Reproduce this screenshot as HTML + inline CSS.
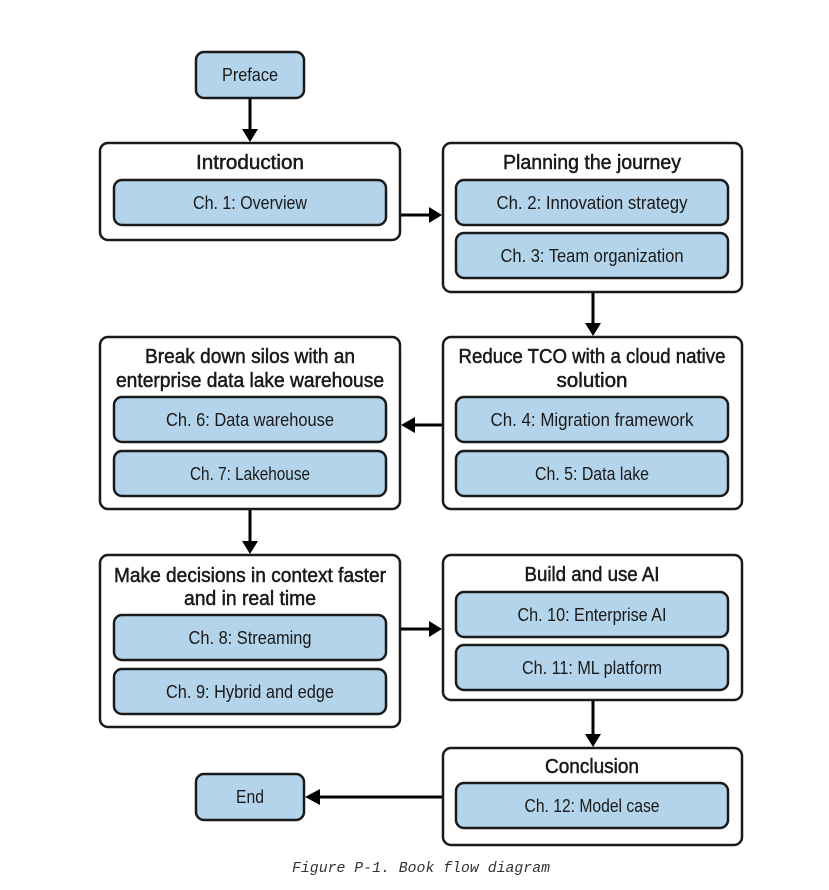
<!DOCTYPE html>
<html><head><meta charset="utf-8"><style>
html,body{margin:0;padding:0;background:#fff;}
svg{display:block;}
.o{fill:#fff;stroke:#1a1a1a;stroke-width:2.5;}
.i{fill:#b3d4ea;stroke:#1a1a1a;stroke-width:2.5;}
text{font-family:"Liberation Sans",sans-serif;fill:#1a1a1a;text-anchor:middle;}
.c{font-size:18px;}
.t{font-size:20px;stroke:#1a1a1a;stroke-width:0.5;}
.l{stroke:#000;stroke-width:3;fill:none;}
.cap{font-family:"Liberation Mono",monospace;font-style:italic;font-size:15px;fill:#333;}
</style></head><body>
<svg width="829" height="890" viewBox="0 0 829 890" xmlns="http://www.w3.org/2000/svg">
<defs><marker id="a" markerWidth="10" markerHeight="10" refX="9" refY="5" orient="auto" markerUnits="userSpaceOnUse"><path d="M0,0 L10,5 L0,10 Z" fill="#000" transform="scale(1)"/></marker></defs>
<g>
<path class="l" d="M250,99 V132"/><path d="M242,129 L250,142 L258,129Z"/>
<path class="l" d="M401,215 H432"/><path d="M429,207 L442,215 L429,223Z"/>
<path class="l" d="M593,293 V326"/><path d="M585,323 L593,336 L601,323Z"/>
<path class="l" d="M442,425 H412"/><path d="M415,417 L401,425 L415,433Z"/>
<path class="l" d="M250,510 V544"/><path d="M242,541 L250,554 L258,541Z"/>
<path class="l" d="M401,629 H432"/><path d="M429,621 L442,629 L429,637Z"/>
<path class="l" d="M593,701 V737"/><path d="M585,734 L593,747 L601,734Z"/>
<path class="l" d="M442,797 H317"/><path d="M320,789 L305,797 L320,805Z"/>
</g>
<rect class="i" x="196" y="52" width="108" height="46" rx="8"/>
<text class="c" x="250" y="81" textLength="56" lengthAdjust="spacingAndGlyphs">Preface</text>

<rect class="o" x="100" y="143" width="300" height="97" rx="8"/>
<text class="t" x="250" y="169" textLength="108" lengthAdjust="spacingAndGlyphs">Introduction</text>
<rect class="i" x="114" y="180" width="272" height="45" rx="8"/>
<text class="c" x="250" y="209" textLength="114" lengthAdjust="spacingAndGlyphs">Ch. 1: Overview</text>

<rect class="o" x="443" y="143" width="299" height="149" rx="8"/>
<text class="t" x="592" y="169" textLength="178" lengthAdjust="spacingAndGlyphs">Planning the journey</text>
<rect class="i" x="456" y="180" width="272" height="45" rx="8"/>
<text class="c" x="592" y="209" textLength="191" lengthAdjust="spacingAndGlyphs">Ch. 2: Innovation strategy</text>
<rect class="i" x="456" y="233" width="272" height="45" rx="8"/>
<text class="c" x="592" y="262" textLength="183" lengthAdjust="spacingAndGlyphs">Ch. 3: Team organization</text>

<rect class="o" x="443" y="337" width="299" height="172" rx="8"/>
<text class="t" x="592" y="363" textLength="267" lengthAdjust="spacingAndGlyphs">Reduce TCO with a cloud native</text>
<text class="t" x="592" y="387" textLength="71" lengthAdjust="spacingAndGlyphs">solution</text>
<rect class="i" x="456" y="397" width="272" height="45" rx="8"/>
<text class="c" x="592" y="426" textLength="203" lengthAdjust="spacingAndGlyphs">Ch. 4: Migration framework</text>
<rect class="i" x="456" y="451" width="272" height="45" rx="8"/>
<text class="c" x="592" y="480" textLength="114" lengthAdjust="spacingAndGlyphs">Ch. 5: Data lake</text>

<rect class="o" x="100" y="337" width="300" height="172" rx="8"/>
<text class="t" x="250" y="363" textLength="210" lengthAdjust="spacingAndGlyphs">Break down silos with an</text>
<text class="t" x="250" y="387" textLength="268" lengthAdjust="spacingAndGlyphs">enterprise data lake warehouse</text>
<rect class="i" x="114" y="397" width="272" height="45" rx="8"/>
<text class="c" x="250" y="426" textLength="168" lengthAdjust="spacingAndGlyphs">Ch. 6: Data warehouse</text>
<rect class="i" x="114" y="451" width="272" height="45" rx="8"/>
<text class="c" x="250" y="480" textLength="120" lengthAdjust="spacingAndGlyphs">Ch. 7: Lakehouse</text>

<rect class="o" x="100" y="555" width="300" height="172" rx="8"/>
<text class="t" x="250" y="582" textLength="272" lengthAdjust="spacingAndGlyphs">Make decisions in context faster</text>
<text class="t" x="250" y="605" textLength="132" lengthAdjust="spacingAndGlyphs">and in real time</text>
<rect class="i" x="114" y="615" width="272" height="45" rx="8"/>
<text class="c" x="250" y="644" textLength="123" lengthAdjust="spacingAndGlyphs">Ch. 8: Streaming</text>
<rect class="i" x="114" y="669" width="272" height="45" rx="8"/>
<text class="c" x="250" y="698" textLength="168" lengthAdjust="spacingAndGlyphs">Ch. 9: Hybrid and edge</text>

<rect class="o" x="443" y="555" width="299" height="145" rx="8"/>
<text class="t" x="592" y="581" textLength="135" lengthAdjust="spacingAndGlyphs">Build and use AI</text>
<rect class="i" x="456" y="592" width="272" height="45" rx="8"/>
<text class="c" x="592" y="621" textLength="149" lengthAdjust="spacingAndGlyphs">Ch. 10: Enterprise AI</text>
<rect class="i" x="456" y="645" width="272" height="45" rx="8"/>
<text class="c" x="592" y="674" textLength="140" lengthAdjust="spacingAndGlyphs">Ch. 11: ML platform</text>

<rect class="o" x="443" y="748" width="299" height="97" rx="8"/>
<text class="t" x="592" y="773" textLength="94" lengthAdjust="spacingAndGlyphs">Conclusion</text>
<rect class="i" x="456" y="783" width="272" height="45" rx="8"/>
<text class="c" x="592" y="812" textLength="135" lengthAdjust="spacingAndGlyphs">Ch. 12: Model case</text>

<rect class="i" x="196" y="774" width="108" height="46" rx="8"/>
<text class="c" x="250" y="803" textLength="28" lengthAdjust="spacingAndGlyphs">End</text>

<text class="cap" x="421" y="872" textLength="258" lengthAdjust="spacingAndGlyphs">Figure P-1. Book flow diagram</text>
</svg>
</body></html>
